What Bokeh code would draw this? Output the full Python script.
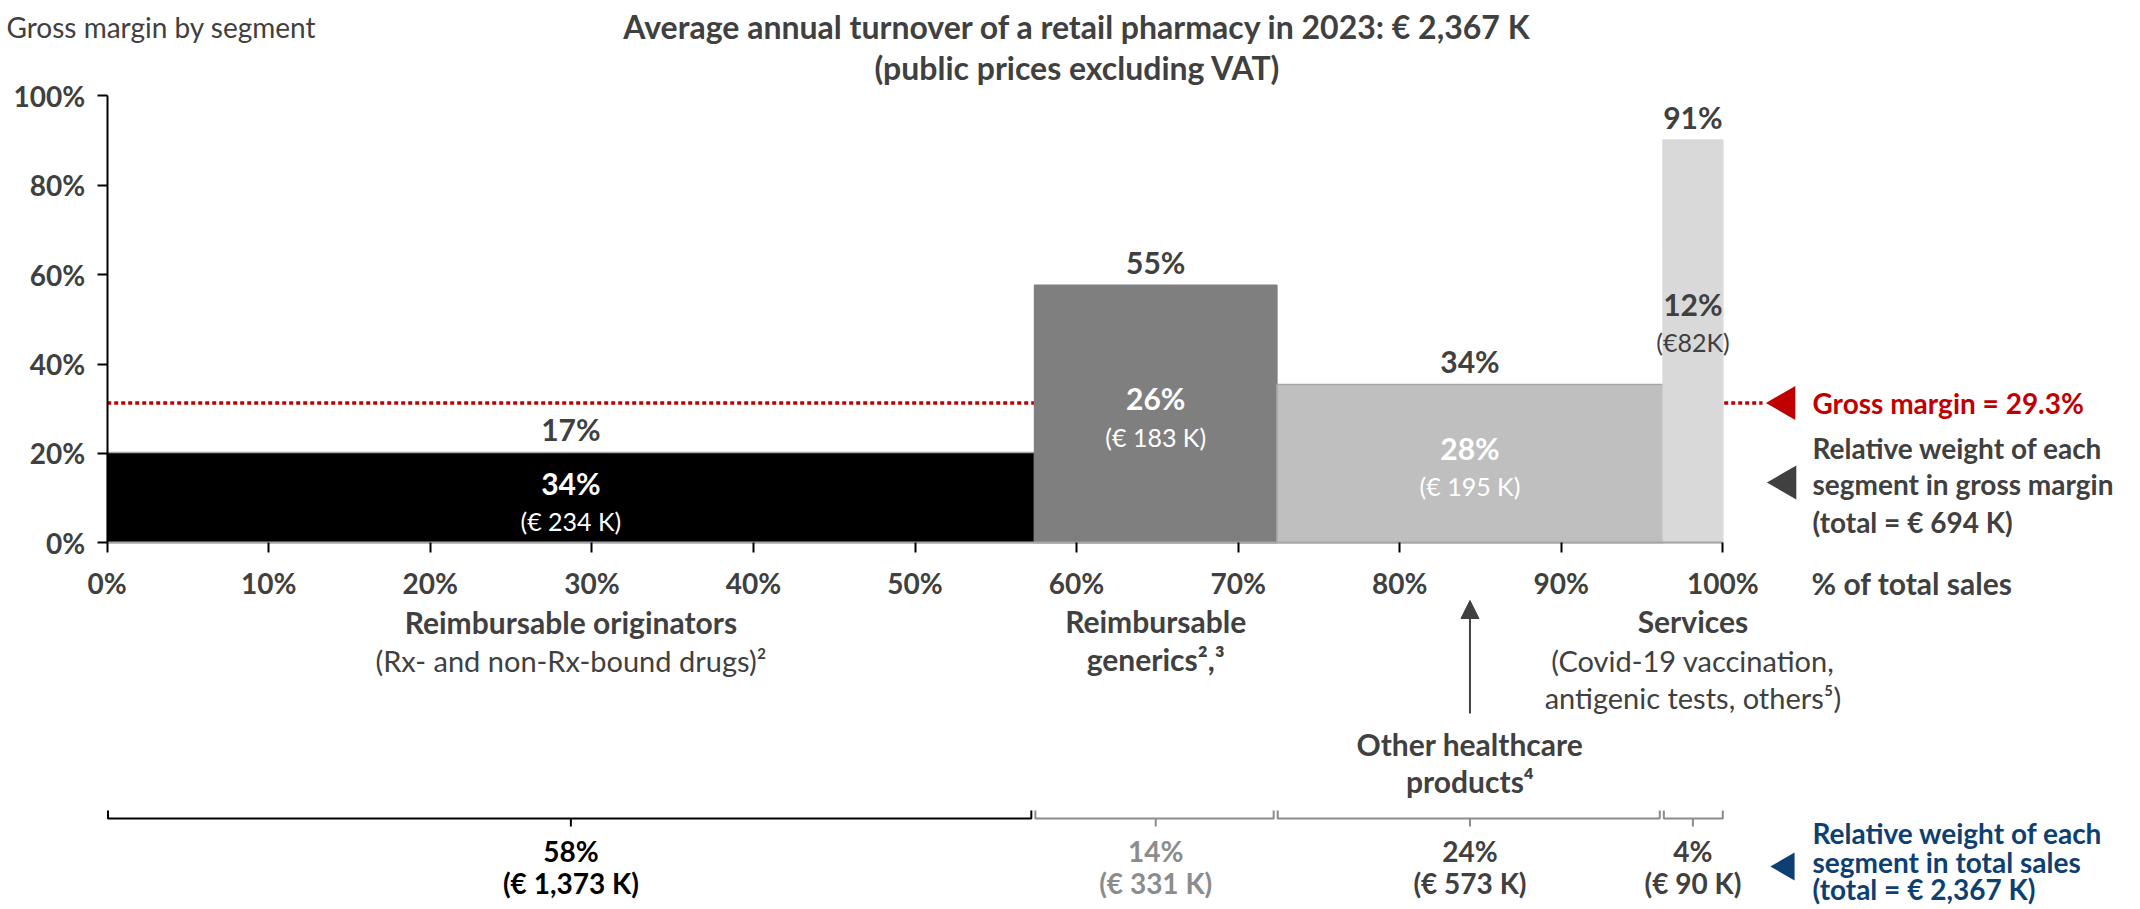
import math
from bokeh.plotting import figure
from bokeh.models import (Range1d, LinearAxis, FixedTicker, PrintfTickFormatter,
                          Arrow, NormalHead, ColumnDataSource)
from bokeh.core.properties import value
from bokeh.embed import file_html
from bokeh.resources import INLINE

# ---------------- data ----------------
segments = ["Reimbursable originators", "Reimbursable generics",
            "Other healthcare products", "Services"]
sales_width = [57.4, 15.0, 23.9, 3.7]          # column widths (% of total sales, as drawn)
margin_rate = [20.2, 57.6, 35.4, 90.1]          # column heights (gross margin rate, as drawn)
margin_rate_labels = ["17%", "55%", "34%", "91%"]
margin_weight_labels = ["34%", "26%", "28%", "12%"]
margin_amount_labels = ["(€ 234 K)", "(€ 183 K)", "(€ 195 K)", "(€82K)"]
sales_weight_labels = ["58%", "14%", "24%", "4%"]
sales_amount_labels = ["(€ 1,373 K)", "(€ 331 K)", "(€ 573 K)", "(€ 90 K)"]
average_margin = 31.3
average_margin_label = "Gross margin = 29.3%"
x_ticks = [0, 10, 20, 30, 40, 50, 60, 70, 80, 90, 100]
y_ticks = [0, 20, 40, 60, 80, 100]

# ---------------- styles ----------------
FONT = "Lato"
DARK = "#404040"
RED = "#c00000"
BLUE = "#0e3f72"
bar_fill = ["#000000", "#7f7f7f", "#bfbfbf", "#d9d9d9"]
bar_line = ["#a6a6a6", "#7f7f7f", "#a6a6a6", "#d9d9d9"]
inner_color = ["white", "white", "white", DARK]
bracket_color = ["#000000", "#8c8c8c", "#8c8c8c", "#8c8c8c"]
bracket_text_color = ["#000000", "#8c8c8c", DARK, DARK]

W, H = 2140, 909
X0, XS = 106.7, 16.156     # reference pixel of x=0, pixels per unit
Y0, YS = 542.3, 4.47       # reference pixel of y=0, pixels per unit


def dx(X):
    return (X - X0) / XS


def dy(Y):
    return (Y0 - Y) / YS


p = figure(width=W, height=H, output_backend="svg", toolbar_location=None,
           x_range=Range1d(dx(0), dx(W)), y_range=Range1d(dy(H), dy(0)),
           x_axis_location=None, y_axis_location=None, min_border=0,
           outline_line_color=None, background_fill_color="white")
for g in p.grid:
    g.visible = False

# bar geometry from data
lefts, rights = [], []
acc = 0.0
for w in sales_width:
    lefts.append(acc)
    acc += w
    rights.append(acc)
centers = [(l + r) / 2 for l, r in zip(lefts, rights)]

# average gross margin dotted line (beneath bars)
p.segment(x0=[0], y0=[average_margin], x1=[dx(1762)], y1=[average_margin],
          line_color=RED, line_width=3.5, line_dash="4 3")

p.quad(left=lefts, right=rights, bottom=[0] * 4, top=margin_rate,
       fill_color=bar_fill, line_color=bar_line, line_width=1.5)

# axes
yaxis = LinearAxis(fixed_location=0, ticker=FixedTicker(ticks=y_ticks),
                   formatter=PrintfTickFormatter(format="%d%%"), bounds=(0, 100))
xaxis = LinearAxis(fixed_location=0, ticker=FixedTicker(ticks=x_ticks),
                   formatter=PrintfTickFormatter(format="%d%%"), bounds=(0, 100))
for ax, lc in ((yaxis, "black"), (xaxis, "#a6a6a6")):
    ax.axis_line_color = lc
    ax.axis_line_width = 2
    ax.major_tick_line_color = "black"
    ax.major_tick_line_width = 2
    ax.major_tick_in = 0
    ax.major_tick_out = 10
    ax.minor_tick_line_color = None
    ax.major_label_text_font = FONT
    ax.major_label_text_font_style = "bold"
    ax.major_label_text_font_size = "28px"
    ax.major_label_text_color = DARK
yaxis.major_label_standoff = 12
xaxis.major_label_standoff = 13
p.add_layout(yaxis, "left")
p.add_layout(xaxis, "below")


def text(xs, ys, texts, size, color, bold=True, align="center"):
    src = ColumnDataSource(dict(x=xs, y=ys, t=texts,
                                c=color if isinstance(color, list) else [color] * len(xs)))
    p.text(x="x", y="y", text="t", source=src, text_color="c",
           text_font=value(FONT), text_font_style="bold" if bold else "normal",
           text_font_size=size, text_align=align, text_baseline="middle")


# labels on bars
text(centers, [h + 5.2 for h in margin_rate], margin_rate_labels, "30px", DARK)
inner_pct_y = [dy(482), dy(397), dy(447), dy(303)]
inner_amt_y = [dy(520), dy(436), dy(485), dy(341)]
text(centers, inner_pct_y, margin_weight_labels, "30px", inner_color)
text(centers, inner_amt_y, margin_amount_labels, "25px", inner_color, bold=False)

# header
text([dx(6)], [dy(26)], ["Gross margin by segment"], "28px", DARK, bold=False, align="left")
text([dx(1077), dx(1077)], [dy(26), dy(67)],
     ["Average annual turnover of a retail pharmacy in 2023: € 2,367 K",
      "(public prices excluding VAT)"], "32px", DARK)

# x axis title
text([dx(1811)], [dy(582)], ["% of total sales"], "30px", DARK, align="left")

# category labels
text([centers[0], centers[1], centers[3]], [dy(621), dy(620), dy(620)],
     ["Reimbursable originators", "Reimbursable", "Services"], "30px", DARK)
text([centers[1]], [dy(658)], ["generics²,³"], "30px", DARK)
text([centers[0], centers[3], centers[3]], [dy(660), dy(660), dy(697)],
     ["(Rx- and non-Rx-bound drugs)²", "(Covid-19 vaccination,", "antigenic tests, others⁵)"],
     "29px", DARK, bold=False)
text([centers[2], centers[2]], [dy(743), dy(780)],
     ["Other healthcare", "products⁴"], "30px", DARK)
p.add_layout(Arrow(end=NormalHead(size=18, fill_color=DARK, line_color=DARK),
                   x_start=centers[2], y_start=dy(713), x_end=centers[2], y_end=dy(600),
                   line_color=DARK, line_width=2))

# brackets (share of total sales)
yb, yt, yc = dy(818), dy(810), dy(826)
bx, by = [], []
for l, r in zip(lefts, rights):
    x1 = r - 0.2 if r < 99.9 else r
    bx.append([l + 0.05, l + 0.05, x1, x1])
    by.append([yt, yb, yb, yt])
p.multi_line(xs=bx, ys=by, line_color=bracket_color, line_width=2)
p.segment(x0=centers, y0=[yb] * 4, x1=centers, y1=[yc] * 4,
          line_color=bracket_color, line_width=2)
text(centers, [dy(850)] * 4, sales_weight_labels, "28px", bracket_text_color)
text(centers, [dy(882)] * 4, sales_amount_labels, "28px", bracket_text_color)

# right-hand legend
p.scatter(x=[dx(1785), dx(1786), dx(1786)], y=[average_margin, dy(482), dy(866)],
          marker="triangle", size=[34, 34, 28], angle=math.pi / 2,
          fill_color=[RED, DARK, BLUE], line_color=None)
text([dx(1812)], [dy(402)], [average_margin_label], "28px", RED, align="left")
text([dx(1812)] * 3, [dy(447), dy(483), dy(521)],
     ["Relative weight of each", "segment in gross margin", "(total = € 694 K)"],
     "28px", DARK, align="left")
text([dx(1812)] * 3, [dy(832), dy(861), dy(888)],
     ["Relative weight of each", "segment in total sales", "(total = € 2,367 K)"],
     "28px", BLUE, align="left")

open("out.html", "w").write(file_html(p, INLINE))
